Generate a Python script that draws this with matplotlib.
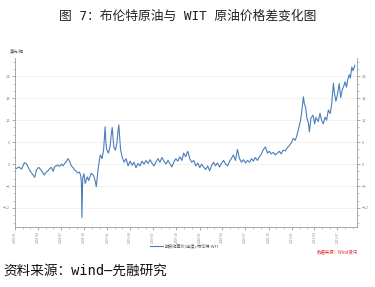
import matplotlib
matplotlib.use("Agg")
import matplotlib.pyplot as plt
import matplotlib.dates as mdates
import pandas as pd

plt.rcParams['font.family'] = ['Noto Sans CJK SC', 'DejaVu Sans']

title = "图 7：布伦特原油与 WIT 原油价格差变化图"
source = "资料来源：wind—先融研究"
unit = "美元/桶"
series_name = "期货结算价(连续):布伦特-WTI"
watermark = "数据来源：Wind资讯"

dates = [
    "2008-01-01", "2008-01-07", "2008-01-17", "2008-01-27", "2008-02-07", "2008-02-16", "2008-02-29",
    "2008-03-13", "2008-03-19", "2008-03-26", "2008-04-04", "2008-04-15", "2008-04-26", "2008-05-03",
    "2008-05-11", "2008-05-18", "2008-05-24", "2008-05-31", "2008-06-06", "2008-06-17", "2008-06-26",
    "2008-07-03", "2008-07-09", "2008-07-16", "2008-07-22", "2008-07-29", "2008-08-04", "2008-08-11",
    "2008-08-18", "2008-08-24", "2008-08-31", "2008-09-06", "2008-09-12", "2008-09-17", "2008-09-20",
    "2008-09-22", "2008-09-25", "2008-09-30", "2008-10-05", "2008-10-13", "2008-10-19", "2008-10-22",
    "2008-10-29", "2008-11-08", "2008-11-14", "2008-11-18", "2008-11-24", "2008-11-29", "2008-12-04",
    "2008-12-11", "2008-12-17", "2008-12-21", "2008-12-23", "2008-12-26", "2008-12-29", "2009-01-05",
    "2009-01-12", "2009-01-16", "2009-01-20", "2009-01-24", "2009-01-27", "2009-02-02", "2009-02-08",
    "2009-02-12", "2009-02-15", "2009-02-19", "2009-02-22", "2009-02-28",
    "2009-03-08", "2009-03-16", "2009-03-24", "2009-04-01", "2009-04-09", "2009-04-16", "2009-04-24",
    "2009-05-02", "2009-05-10", "2009-05-18", "2009-05-26", "2009-06-03", "2009-06-11", "2009-06-19",
    "2009-06-26", "2009-07-04", "2009-07-12", "2009-07-20", "2009-07-28", "2009-08-05", "2009-08-13",
    "2009-08-21", "2009-08-29", "2009-09-05", "2009-09-13", "2009-09-21", "2009-09-29", "2009-10-07",
    "2009-10-15", "2009-10-23", "2009-10-30", "2009-11-07", "2009-11-15", "2009-11-23", "2009-12-01",
    "2009-12-09", "2009-12-17", "2009-12-25", "2010-01-02", "2010-01-09", "2010-01-17", "2010-01-25",
    "2010-02-02", "2010-02-10", "2010-02-18", "2010-02-26", "2010-03-05", "2010-03-13", "2010-03-21",
    "2010-03-29", "2010-04-06", "2010-04-14", "2010-04-22", "2010-04-30", "2010-05-07", "2010-05-15",
    "2010-05-23", "2010-05-31", "2010-06-08", "2010-06-16", "2010-06-24", "2010-07-02", "2010-07-10",
    "2010-07-18", "2010-07-26", "2010-08-02", "2010-08-10", "2010-08-18", "2010-08-26", "2010-09-03",
    "2010-09-11", "2010-09-19", "2010-09-27", "2010-10-04", "2010-10-12", "2010-10-20", "2010-10-28",
    "2010-11-05", "2010-11-13", "2010-11-20", "2010-11-28", "2010-12-06", "2010-12-14", "2010-12-22",
    "2010-12-30", "2011-01-07", "2011-01-15", "2011-01-23", "2011-01-31", "2011-02-05", "2011-02-11",
    "2011-02-16", "2011-02-20", "2011-02-25", "2011-03-02", "2011-03-08", "2011-03-12", "2011-03-18",
    "2011-03-26", "2011-04-02", "2011-04-07", "2011-04-16", "2011-04-23", "2011-04-29", "2011-05-06",
    "2011-05-13", "2011-05-19", "2011-05-26", "2011-06-02", "2011-06-08", "2011-06-15", "2011-06-19",
    "2011-06-25", "2011-07-01", "2011-07-08", "2011-07-14", "2011-07-21", "2011-07-27", "2011-07-31",
    "2011-08-06", "2011-08-12", "2011-08-17", "2011-08-21", "2011-08-27", "2011-09-01", "2011-09-08",
]
spread = [
    -1.0, -1.2, -0.8, -1.4, 0.4, 0.0, -1.8,
    -3.0, -3.6, -1.6, -0.9, -1.8, -3.0, -2.2,
    -1.8, -1.2, -0.9, -2.0, -0.7, -0.3, -0.6,
    0.0, -0.5, 0.2, 0.6, 1.5, 0.8, -0.5,
    -1.0, -1.6, -2.0, -2.4, -2.2, -3.0, -5.0,
    -14.6, -4.0, -2.6, -5.3, -3.5, -4.5, -3.8,
    -2.5, -3.2, -4.8, -6.2, -2.0, 0.5, 2.5,
    1.5, 4.0, 8.0, 10.2, 6.0, 4.0, 3.0,
    5.0, 8.0, 10.0, 6.5, 4.5, 3.8, 6.0,
    9.0, 10.7, 7.0, 4.0, 2.0,
    0.5, 1.5, -0.5, 0.8, -0.3, 0.5, -1.0,
    0.2, -0.5, 0.8, 0.0, 1.0, 0.2, 1.2,
    0.3, -0.5, 0.5, 1.5, 0.5, 1.8, 0.8,
    0.0, 1.0, 0.2, -0.8, 0.5, 1.5, 0.8,
    2.0, 1.0, 3.0, 2.0, 3.5, 1.5, 0.5,
    1.0, -0.5, 0.3, -1.0, 0.0, -0.8, -1.5,
    -0.5, -1.8, -0.3, 0.5, -0.5, 0.3, -0.8,
    0.2, 1.0, 0.0, -0.5, 0.8, 1.5, 2.5,
    1.0, 4.0, 1.5, 0.5, 1.2, 0.3, 1.0,
    0.5, 1.5, 0.8, 1.8, 1.0, 2.0, 2.8,
    4.0, 4.7, 3.0, 3.5, 2.8, 3.2, 2.5,
    3.0, 3.5, 2.8, 3.8, 3.6, 4.4, 5.0,
    5.8, 7.0, 6.5, 8.2, 10.5, 12.0, 15.0,
    18.4, 16.5, 15.5, 12.6, 11.2, 8.8, 12.5,
    13.4, 11.0, 12.8, 11.6, 13.9, 12.0, 11.0,
    12.8, 12.0, 14.8, 13.8, 16.2, 22.1, 19.5,
    17.2, 19.0, 22.0, 18.2, 20.5, 21.5, 22.5,
    21.0, 23.5, 24.4, 23.5, 26.5, 25.5, 27.0,
]
yticks = [-12, -6, 0, 6, 12, 18, 24]
x_start, x_end = "2008-01-01", "2011-09-15"
y_min, y_max = -17.2, 29.0

x = pd.to_datetime(dates)

fig = plt.figure(figsize=(3.75, 2.87), dpi=100)
fig.patch.set_facecolor("white")
ax = fig.add_axes([0.04, 0.209, 0.911, 0.589])

ax.plot(x, spread, color="#4a7ebb", lw=0.8)

ax.set_xlim(pd.Timestamp(x_start), pd.Timestamp(x_end))
ax.set_ylim(y_min, y_max)
ax.set_yticks(yticks)
ax.yaxis.set_minor_locator(matplotlib.ticker.MultipleLocator(2))
ax.xaxis.set_major_locator(mdates.MonthLocator(bymonth=[1, 4, 7, 10]))
ax.xaxis.set_minor_locator(mdates.MonthLocator())
ax.xaxis.set_major_formatter(mdates.DateFormatter("%Y-%m"))

ax.grid(axis="y", color="#f3efe4", lw=0.6)
ax.set_axisbelow(True)

ax.spines["top"].set_visible(False)
for s in ["left", "right", "bottom"]:
    ax.spines[s].set_color("#9a9a9a")
    ax.spines[s].set_linewidth(0.6)

ax.tick_params(axis="both", which="major", labelsize=3, colors="#888888",
               length=2.5, width=0.5, pad=1)
ax.tick_params(axis="x", which="major", labelsize=2.3, pad=0.8)
ax.tick_params(axis="both", which="minor", colors="#999999", length=1.5, width=0.4)
ax.tick_params(axis="y", which="both", right=True, labelright=True, direction="out")
for lab in ax.get_xticklabels():
    lab.set_rotation(90)

mono = ['DejaVu Sans Mono', 'Noto Sans CJK SC']
fig.text(0.026, 0.815, unit, fontsize=3, color="#555555", ha="left", va="bottom")
fig.text(0.5, 0.945, title, fontsize=9.2, ha="center", va="center", color="#222222",
         family=mono)
fig.text(0.008, 0.055, source, fontsize=9.8, ha="left", va="center", color="#111111",
         family=mono)

# legend
fig.lines.append(matplotlib.lines.Line2D([0.4, 0.435], [0.142, 0.142], transform=fig.transFigure,
                                         color="#4a7ebb", lw=0.8))
fig.text(0.44, 0.142, series_name, fontsize=3, va="center", ha="left", color="#555555")
fig.text(0.955, 0.122, watermark, fontsize=3.2, va="center", ha="right", color="#e03030")

fig.savefig("out.png", dpi=100)
